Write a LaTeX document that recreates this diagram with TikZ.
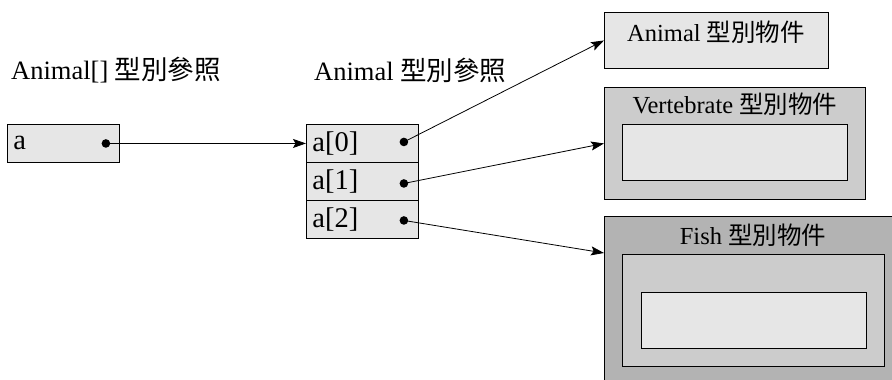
\documentclass[tikz,border=0pt]{standalone}
\usepackage{fontspec}
\setmainfont{Liberation Serif}
\newfontfamily\cjk{Noto Sans CJK TC}
\usetikzlibrary{arrows.meta}
\definecolor{boxlight}{HTML}{E6E6E6}
\definecolor{boxmid}{HTML}{CCCCCC}
\definecolor{boxdark}{HTML}{B3B3B3}
\tikzset{
  frame/.style={draw, line width=0.9pt, inner sep=0pt, anchor=north west},
  cell/.style={frame, fill=boxlight, minimum width=112pt, minimum height=38pt,
    text width=100pt, inner xsep=6pt, align=left, font=\fontsize{28.5}{28.5}\selectfont},
  heading/.style={inner sep=0pt, anchor=west, font=\fontsize{26.5}{26.5}\selectfont},
  caption/.style={inner sep=0pt, font=\fontsize{24.5}{24.5}\selectfont},
  ref/.style={line width=0.8pt, -{Stealth[length=13pt,width=9pt,inset=2.5pt]}},
  dot/.style={fill=black}
}
\begin{document}
\begin{tikzpicture}[x=1pt,y=-1pt]
  \clip (0,0) rectangle (892,380);

  % headings
  \node[heading] (h1) at (11,70) {Animal[] {\cjk 型別參照}};
  \node[heading] (h2) at (314,70) {Animal {\cjk 型別參照}};

  % reference variable
  \node[cell] (a) at (7,124) {a};

  % array of references
  \node[cell] (c0) at (306,124) {a[0]};
  \node[cell] (c1) at (306,162) {a[1]};
  \node[cell] (c2) at (306,200) {a[2]};

  % objects
  \node[frame, fill=boxlight, minimum width=224pt, minimum height=56pt] (animal) at (604,12) {};
  \node[caption] (animalt) at (716,32) {Animal {\cjk 型別物件}};

  \node[frame, fill=boxmid, minimum width=261pt, minimum height=112pt] (vert) at (604,87) {};
  \node[frame, fill=boxlight, minimum width=225pt, minimum height=56pt] (verti) at (622,124) {};
  \node[caption] (vertt) at (735,104) {Vertebrate {\cjk 型別物件}};

  \node[frame, fill=boxdark, minimum width=300pt, minimum height=180pt] (fish) at (604,216) {};
  \node[frame, fill=boxmid, minimum width=262pt, minimum height=112pt] (fishm) at (622,254) {};
  \node[frame, fill=boxlight, minimum width=225pt, minimum height=56pt] (fishi) at (641,292) {};
  \node[caption] (fisht) at (753,235) {Fish {\cjk 型別物件}};

  % reference dots
  \coordinate (da) at ([xshift=-14pt]a.east);
  \coordinate (d0) at ([xshift=-15pt,yshift=1.5pt]c0.east);
  \coordinate (d1) at ([xshift=-15pt,yshift=-2pt]c1.east);
  \coordinate (d2) at ([xshift=-15pt,yshift=-1pt]c2.east);
  \coordinate (tf) at ([yshift=-37pt]fish.north west);
  \foreach \d in {da,d0,d1,d2} \fill[dot] (\d) circle (4.3pt);

  % references
  \draw[ref] (da) -- (c0.west);
  \draw[ref] (d0) -- (animal.west);
  \draw[ref] (d1) -- (vert.west);
  \draw[ref] (d2) -- (tf);
\end{tikzpicture}
\end{document}
